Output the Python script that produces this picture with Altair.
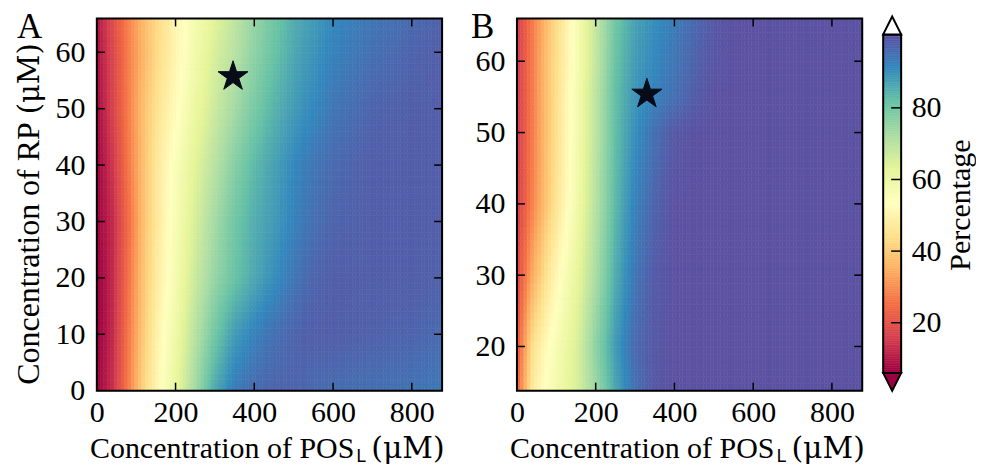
import altair as alt
import numpy as np
import pandas as pd

FONT = "Liberation Serif"
UNIT_FONT = "DejaVu Serif"
SUB_FONT = "DejaVu Sans"

# ---------------- data ----------------
XS = [0, 40, 80, 120, 160, 200, 250, 300, 350, 400, 450, 500, 550, 600, 700, 800, 877]

A_Y = [0, 10, 20, 30, 40, 50, 60, 66]
A_ROWS = [
    [6, 13, 27, 42, 52, 61, 73, 86, 93, 96, 97, 97, 96, 95.5, 95, 94.5, 93.5],
    [5, 12, 26, 40, 51, 59, 70, 80, 88, 92, 95, 97, 98, 98, 97.5, 97, 96],
    [5, 12, 25, 39, 49, 57, 67, 75, 81, 86, 90, 94, 97, 98, 98, 98, 97.5],
    [6, 12, 24, 38, 48, 56, 65, 73, 80, 85, 88, 92, 95, 97, 98, 98, 98],
    [6, 14, 26, 38, 48, 55, 63, 70, 77, 83, 87, 91, 94, 96, 98, 98, 98],
    [7, 16, 27, 38, 46, 52, 60, 67, 73, 79, 84, 88, 91, 94, 97, 98, 98],
    [8, 17, 27, 36, 44, 50, 58, 65, 70, 76, 81, 86, 89, 92, 95, 97, 98],
    [9, 18, 28, 37, 44, 50, 57, 63, 69, 75, 80, 85, 88, 91, 94, 96, 97.5],
]

B_Y = [14, 20, 30, 40, 50, 55, 60, 66]
B_ROWS = [
    [22, 47, 55, 60, 66, 74, 86, 95, 99, 100, 100, 100, 100, 100, 100, 100, 100],
    [20, 44, 53, 59, 66, 76, 88, 96, 99, 100, 100, 100, 100, 100, 100, 100, 100],
    [17, 34, 46, 55, 63, 72, 85, 94, 98.5, 100, 100, 100, 100, 100, 100, 100, 100],
    [15, 28, 40, 50, 60, 70, 83, 92, 97, 100, 100, 100, 100, 100, 100, 100, 100],
    [15, 27, 39, 49, 59, 69, 82, 90, 95, 99, 100, 100, 100, 100, 100, 100, 100],
    [15, 27, 39, 49, 59, 69, 82, 89, 92, 95, 98, 100, 100, 100, 100, 100, 100],
    [15, 27, 39, 48, 58, 68, 81, 88, 91, 94, 97, 99.5, 100, 100, 100, 100, 100],
    [15, 27, 38, 48, 58, 68, 80, 87, 90, 93, 96, 99, 100, 100, 100, 100, 100],
]

STAR_A = [346, 55.7]
STAR_B = [330, 55.4]

X_MAX = 877
A_YDOM = [0, 66]
B_YDOM = [13.8, 66]
X_LABELS = [0, 200, 400, 600, 800]
X_TICKS = [200, 400, 600, 800]
A_YLABELS = [0, 10, 20, 30, 40, 50, 60]
A_YTICKS = [10, 20, 30, 40, 50, 60]
B_YLABELS = [20, 30, 40, 50, 60]
B_YTICKS = [20, 30, 40, 50, 60]
CB_TICKS = [20, 40, 60, 80]
CB_RANGE = [6, 100.5]
SPECTRAL = ["#9e0142", "#d53e4f", "#f46d43", "#fdae61", "#fee08b", "#ffffbf",
            "#e6f598", "#abdda4", "#66c2a5", "#3288bd", "#5e4fa2"]

X_TITLE = "Concentration of POS"
X_SUB = "L"
UNIT = "(μM)"
Y_TITLE = "Concentration of RP"
CB_TITLE = "Percentage"

# ---------------- rendering helpers ----------------
W, H = 346, 373
GAP_AB = 75          # plot-to-plot gap between A and B
GAP = 21             # gap between B and colour bar
CBW = 18
LABEL_FS = 30
STAR = ("M0,-1L0.2245,-0.309L0.951,-0.309L0.363,0.118L0.588,0.809L0,0.382"
        "L-0.588,0.809L-0.363,0.118L-0.951,-0.309L-0.2245,-0.309Z")

stops = list(np.linspace(CB_RANGE[0], CB_RANGE[1], len(SPECTRAL)))
color_scale = alt.Scale(domain=stops, range=SPECTRAL, interpolate="rgb", clamp=True)
one = pd.DataFrame({"k": [0]})


def field(ys, rows, ydom, nx=100, ny=60):
    xe = np.linspace(0, X_MAX, nx + 1)
    ye = np.linspace(ydom[0], ydom[1], ny + 1)
    xc = (xe[:-1] + xe[1:]) / 2
    yc = (ye[:-1] + ye[1:]) / 2
    r = np.array(rows, float)
    tmp = np.array([np.interp(xc, XS, row) for row in r])
    recs = []
    for j, y in enumerate(yc):
        col = [np.interp(y, ys, tmp[:, i]) for i in range(nx)]
        for i in range(nx):
            recs.append((xe[i], xe[i + 1], ye[j], ye[j + 1], col[i]))
    return pd.DataFrame(recs, columns=["x0", "x1", "y0", "y1", "v"])


def label(text, x, y, size, font=FONT, align="left", angle=0):
    mk = dict(text=text, align=align, baseline="alphabetic", font=font,
              fontSize=size, color="black")
    if angle:
        mk["angle"] = angle
    return alt.Chart(one).mark_text(**mk).encode(x=alt.value(x), y=alt.value(y))


def panel(ys, rows, ydom, ylabels, yticks, star, letter, letter_x, with_ytitle, view_w):
    xs = alt.Scale(domain=[0, X_MAX], nice=False, zero=False, range=[0, W])
    ysc = alt.Scale(domain=ydom, nice=False, zero=False)
    ax_x = alt.Axis(values=X_LABELS, title=None, ticks=False, tickSize=0, domain=False,
                    grid=False, labelFlush=False, labelOverlap=False, labelPadding=7)
    ax_y = alt.Axis(values=ylabels, title=None, ticks=False, tickSize=0, domain=False,
                    grid=False, labelFlush=False, labelOverlap=False, labelPadding=12)
    df = field(ys, rows, ydom, ny=int(round(ydom[1] - ydom[0])))
    heat = alt.Chart(df).mark_rect(strokeWidth=0.6).encode(
        x=alt.X("x0:Q", scale=xs, axis=ax_x), x2="x1:Q",
        y=alt.Y("y0:Q", scale=ysc, axis=ax_y), y2="y1:Q",
        color=alt.Color("v:Q", scale=color_scale, legend=None),
        stroke=alt.Stroke("v:Q", scale=color_scale, legend=None),
    )
    xt = pd.DataFrame({"x0": X_TICKS})
    yt = pd.DataFrame({"y0": yticks})
    tb = alt.Chart(xt).mark_rule(color="black", strokeWidth=1.5).encode(
        x=alt.X("x0:Q", scale=xs, axis=ax_x), y=alt.value(H), y2=alt.value(H - 8))
    tt = alt.Chart(xt).mark_rule(color="black", strokeWidth=1.5).encode(
        x=alt.X("x0:Q", scale=xs, axis=ax_x), y=alt.value(0), y2=alt.value(8))
    tl = alt.Chart(yt).mark_rule(color="black", strokeWidth=1.5).encode(
        y=alt.Y("y0:Q", scale=ysc, axis=ax_y), x=alt.value(0), x2=alt.value(8))
    tr = alt.Chart(yt).mark_rule(color="black", strokeWidth=1.5).encode(
        y=alt.Y("y0:Q", scale=ysc, axis=ax_y), x=alt.value(W - 8), x2=alt.value(W))
    sdf = pd.DataFrame({"x0": [star[0]], "y0": [star[1]]})
    st = alt.Chart(sdf).mark_point(shape=STAR, size=1000, filled=True, fill="#080b18",
                                   stroke="#080b18", strokeWidth=1, opacity=1).encode(
        x=alt.X("x0:Q", scale=xs, axis=ax_x), y=alt.Y("y0:Q", scale=ysc, axis=ax_y))
    frame = alt.Chart(one).mark_rect(fillOpacity=0, stroke="black", strokeWidth=2).encode(
        x=alt.value(0), x2=alt.value(W), y=alt.value(0), y2=alt.value(H))
    layers = [heat, tb, tt, tl, tr, st, frame,
              label(X_TITLE, 258, 440, 30, align="right"),
              label(X_SUB, 260, 444, 17, font=SUB_FONT),
              label(UNIT, 275, 440, 30, font=UNIT_FONT),
              label(letter, letter_x, 20, 35)]
    if with_ytitle:
        layers += [label(Y_TITLE, -58, 367, 32, angle=270),
                   label(UNIT, -58, 96, 29, font=UNIT_FONT, angle=270)]
    return alt.layer(*layers).properties(
        width=view_w, height=H, view=alt.ViewBackground(stroke="transparent"))


chartA = panel(A_Y, A_ROWS, A_YDOM, A_YLABELS, A_YTICKS, STAR_A, "A", -80, True,
               W + GAP_AB - GAP)
chartB = panel(B_Y, B_ROWS, B_YDOM, B_YLABELS, B_YTICKS, STAR_B, "B", -46, False, W)

# ---------------- colour bar ----------------
PX = 3.589
CB_TOP_PX = 16
lo, hi = CB_RANGE
cb_dom = [lo - (H - CB_TOP_PX - (hi - lo) * PX) / PX, hi + CB_TOP_PX / PX]
cb_scale = alt.Scale(domain=cb_dom, nice=False, zero=False)
cb_ax = alt.Axis(orient="right", values=CB_TICKS, ticks=False, tickSize=0, domain=False,
                 grid=False, labelFlush=False, labelOverlap=False, labelPadding=10,
                 title=CB_TITLE, titleAngle=270, titleBaseline="top", titlePadding=4,
                 titleFont=FONT, titleFontSize=30, titleFontWeight="normal",
                 titleColor="black")
steps = np.arange(lo, hi, 0.5)
cb_df = pd.DataFrame({"v0": steps, "v1": np.minimum(steps + 0.5, hi)})
cb_rect = alt.Chart(cb_df).mark_rect(strokeWidth=0.6).encode(
    x=alt.value(0), x2=alt.value(CBW),
    y=alt.Y("v0:Q", scale=cb_scale, axis=cb_ax), y2="v1:Q",
    color=alt.Color("v0:Q", scale=color_scale, legend=None),
    stroke=alt.Stroke("v0:Q", scale=color_scale, legend=None),
)
cb_t = pd.DataFrame({"v0": CB_TICKS})
cb_ticks = alt.Chart(cb_t).mark_rule(color="black", strokeWidth=1.5).encode(
    y=alt.Y("v0:Q", scale=cb_scale, axis=cb_ax), x=alt.value(CBW - 10), x2=alt.value(CBW))
frame_df = pd.DataFrame({"v0": [lo], "v1": [hi]})
cb_frame = alt.Chart(frame_df).mark_rect(fillOpacity=0, stroke="black", strokeWidth=2).encode(
    y=alt.Y("v0:Q", scale=cb_scale, axis=cb_ax), y2="v1:Q",
    x=alt.value(0), x2=alt.value(CBW))
bot_px = CB_TOP_PX + (hi - lo) * PX
tri_up = alt.Chart(one).mark_point(shape="M-1,1L1,1L0,-1Z", size=CBW * CBW, filled=True,
                                   fill="white", stroke="black", strokeWidth=2, opacity=1).encode(
    x=alt.value(CBW / 2), y=alt.value(CB_TOP_PX - CBW / 2))
tri_dn = alt.Chart(one).mark_point(shape="M-1,-1L1,-1L0,1Z", size=CBW * CBW, filled=True,
                                   fill=SPECTRAL[0], stroke="black", strokeWidth=2,
                                   opacity=1).encode(
    x=alt.value(CBW / 2), y=alt.value(bot_px + CBW / 2))
cbar = alt.layer(cb_rect, cb_ticks, cb_frame, tri_up, tri_dn).properties(
    width=CBW, height=H, view=alt.ViewBackground(stroke="transparent"))

chart = alt.hconcat(chartA, chartB, cbar, spacing=GAP, bounds="flush").properties(
    padding={"left": 4, "top": 1, "right": 0, "bottom": 0}
).configure_view(stroke="transparent").configure_axis(
    labelFont=FONT, labelFontSize=LABEL_FS, labelColor="black"
)

chart.save("out.html", embed_options={"renderer": "svg", "actions": False})
